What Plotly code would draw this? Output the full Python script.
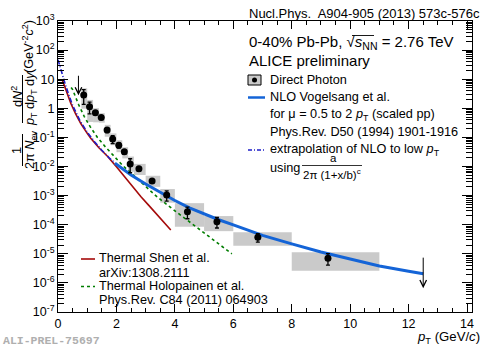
import numpy as np
import plotly.graph_objects as go

# ---------------- direct photon spectrum, 0-40% Pb-Pb ----------------
pt = [0.88, 1.08, 1.28, 1.48, 1.68, 1.87, 2.08, 2.27, 2.47, 2.77, 3.22, 3.72, 4.43, 5.44, 6.84, 9.24]
dn = [2.87, 1.14, 0.71, 0.48, 0.18, 0.088, 0.054, 0.032, 0.0123, 0.0083,
      0.0032, 0.00105, 2.8e-4, 1.27e-4, 3.7e-5, 7.1e-6]
stat_err = [1.5, 0.5, 0.12, 0.07, 0.035, 0.027, 0.011, 0.006, 0.0062, 0.0015,
            0.0005, 0.0004, 1.2e-4, 5e-5, 1.2e-5, 3e-6]
sys_up = [2.0, 0.8, 0.3, 0.2, 0.09, 0.049, 0.026, 0.014, 0.0097, 0.004,
          0.0016, 0.00063, 2.7e-4, 7.1e-5, 1.8e-5, 4.1e-6]
sys_dn = [1.9, 0.8, 0.38, 0.16, 0.075, 0.034, 0.023, 0.013, 0.0057, 0.0032,
          0.0012, 0.00048, 1.95e-4, 6.7e-5, 1.8e-5, 4.5e-6]
bin_lo = [0.8, 1.0, 1.2, 1.4, 1.6, 1.8, 2.0, 2.2, 2.4, 2.6, 3.0, 3.5, 4.0, 5.0, 6.0, 8.0]
bin_hi = [1.0, 1.2, 1.4, 1.6, 1.8, 2.0, 2.2, 2.4, 2.6, 3.0, 3.5, 4.0, 5.0, 6.0, 8.0, 11.0]

# upper limits
ul_pt = [0.7, 12.5]
ul_val = [14.8, 8.3e-6]

# ---------------- theory curves ----------------
nlo_pt = [1.95, 2.5, 3.0, 3.5, 4.0, 4.5, 5.0, 5.5, 6.0, 7.0, 8.0, 9.0, 10.0, 11.0, 12.0, 12.5]
nlo_y = [1.29e-2, 5.1e-3, 2.5e-3, 1.26e-3, 6.8e-4, 3.8e-4, 2.35e-4, 1.48e-4, 9.8e-5,
         4.3e-5, 2.2e-5, 1.15e-5, 6.6e-6, 3.8e-6, 2.5e-6, 2.05e-6]

extra_pt = [0.0, 0.05, 0.1, 0.15, 0.25, 0.35, 0.5, 0.75, 1.0, 1.25, 1.5, 1.75, 1.95]
extra_y = [47, 31, 20.4, 13.8, 6.6, 3.3, 1.26, 0.38, 0.15, 0.071, 0.036, 0.020, 0.0132]

shen_pt = [0.15, 0.3, 0.44, 0.6, 0.78, 1.0, 1.12, 1.4, 1.7, 2.0, 2.27, 2.55, 2.84,
           3.1, 3.41, 3.65, 3.86]
shen_y = [9.3, 3.4, 1.48, 0.65, 0.30, 0.138, 0.093, 0.044, 0.022, 0.0098, 0.0045,
          0.0020, 9.1e-4, 4.7e-4, 2.14e-4, 1.2e-4, 6.6e-5]

holo_pt = [0.45, 0.5, 0.7, 0.9, 1.1, 1.35, 1.6, 1.9, 2.2, 2.5, 2.8, 3.1, 3.4,
           4.0, 4.5, 5.0, 5.5, 5.95]
holo_y = [5.2, 4.4, 1.38, 0.52, 0.234, 0.100, 0.050, 0.0229, 0.0112, 0.0059,
          0.00316, 0.00166, 8.9e-4, 3.0e-4, 1.26e-4, 5.4e-5, 2.3e-5, 1.0e-5]

# axis ticks
x_ticks = [0, 2, 4, 6, 8, 10, 12, 14]
y_exps = list(range(-7, 4))
y_ticktext = ["1" if e == 0 else "10" if e == 1 else "10<sup>%d</sup>" % e for e in y_exps]

# ---------------- styling ----------------
FONT = "Liberation Sans, Arial, sans-serif"
W, H = 485, 346
ML, MR, MT, MB = 58, 13, 21, 34
PW, PH = W - ML - MR, H - MT - MB

BLUE = "rgb(20,100,215)"
DBLUE = "rgb(30,30,200)"
RED = "rgb(165,10,10)"
GREEN = "rgb(0,125,0)"
GRAY = "rgb(202,202,202)"


def px(x):
    return (x - ML) / PW


def py(y):
    return (H - MB - y) / PH


fig = go.Figure()

# systematic boxes
for lo, hi, v, su, sd in zip(bin_lo, bin_hi, dn, sys_up, sys_dn):
    fig.add_trace(go.Scatter(
        x=[lo, hi, hi, lo, lo], y=[v - sd, v - sd, v + su, v + su, v - sd],
        mode="lines", fill="toself", fillcolor=GRAY, line=dict(width=0, color=GRAY),
        hoverinfo="skip", showlegend=False))

# theory curves
fig.add_trace(go.Scatter(x=shen_pt, y=shen_y, mode="lines", line=dict(color=RED, width=1.6),
                         showlegend=False))
fig.add_trace(go.Scatter(x=holo_pt, y=holo_y, mode="lines",
                         line=dict(color=GREEN, width=1.6, dash="3px,3px"), showlegend=False))
fig.add_trace(go.Scatter(x=extra_pt, y=extra_y, mode="lines",
                         line=dict(color=DBLUE, width=1.6, dash="5px,2px,1px,2px"), showlegend=False))
fig.add_trace(go.Scatter(x=nlo_pt, y=nlo_y, mode="lines", line=dict(color=BLUE, width=3),
                         showlegend=False))

# data points with statistical errors
fig.add_trace(go.Scatter(
    x=pt, y=dn, mode="markers",
    marker=dict(color="black", size=7, symbol="circle"),
    error_y=dict(type="data", array=stat_err, color="black", thickness=1.3, width=2),
    showlegend=False))

annotations = []
shapes = []

# upper-limit arrows (tail at the limit, pointing down)
for x, v, ln in zip(ul_pt, ul_val, [21, 32]):
    annotations.append(dict(
        x=x, y=np.log10(v), xref="x", yref="y", yshift=-ln, ax=0, ay=-ln,
        showarrow=True, arrowhead=5, arrowsize=1.3, arrowwidth=1, arrowcolor="black",
        text=""))


def label(x, y, text, size=12.7, anchor="left", color="black", angle=0, family=FONT):
    annotations.append(dict(
        x=px(x), y=py(y), xref="paper", yref="paper", text=text, showarrow=False,
        xanchor=anchor, yanchor="middle", textangle=angle,
        font=dict(family=family, size=size, color=color)))


def hline(x0, x1, y, color="black", width=1, dash="solid"):
    shapes.append(dict(type="line", xref="paper", yref="paper",
                       x0=px(x0), x1=px(x1), y0=py(y), y1=py(y),
                       line=dict(color=color, width=width, dash=dash)))


def vline(x, y0, y1, color="black", width=1):
    shapes.append(dict(type="line", xref="paper", yref="paper",
                       x0=px(x), x1=px(x), y0=py(y0), y1=py(y1),
                       line=dict(color=color, width=width)))


# reference line top right
label(482, 13, "Nucl.Phys.  A904-905 (2013) 573c-576c", size=13, anchor="right")

# header
label(247, 43, "0-40% Pb-Pb, √<i>s</i><sub>NN</sub> = 2.76 TeV", size=15)
hline(352, 374, 35.5, width=0.9)
label(247, 61, "ALICE preliminary", size=15)

# legend (top right)
shapes.append(dict(type="rect", xref="paper", yref="paper",
                   x0=px(248), x1=px(261), y0=py(85), y1=py(75),
                   fillcolor=GRAY, line=dict(color="black", width=1)))
shapes.append(dict(type="circle", xref="paper", yref="paper",
                   x0=px(252), x1=px(257), y0=py(82.5), y1=py(77.5),
                   fillcolor="black", line=dict(color="black", width=0)))
label(268, 80, "Direct Photon")
hline(248, 265, 97.5, color=BLUE, width=2.5)
label(268, 97, "NLO Vogelsang et al.")
label(268, 115, "for μ = 0.5 to 2 <i>p</i><sub>T</sub> (scaled pp)")
label(268, 132, "Phys.Rev. D50 (1994) 1901-1916")
hline(248, 265, 150, color=DBLUE, width=1.3, dash="4px,2px,1px,2px")
label(268, 150, "extrapolation of NLO to low <i>p</i><sub>T</sub>")
label(268, 168, "using", size=12.7)
label(333, 158, "a", size=11.5, anchor="center")
hline(302, 362, 165.5, width=0.8)
label(332, 174, "2π (1+x/b)<sup>c</sup>", size=11.5, anchor="center")

# legend (bottom left)
hline(81, 95, 259, color=RED, width=1.6)
label(97, 258, "Thermal Shen et al.")
label(97, 273, "arXiv:1308.2111")
hline(81, 95, 286.5, color=GREEN, width=1.6, dash="3px,3px")
label(97, 286, "Thermal Holopainen et al.")
label(97, 300, "Phys.Rev. C84 (2011) 064903")

# y-axis title, built from two stacked fractions
label(28, 47, "(GeV<sup>-2</sup><i>c</i><sup>2</sup>)", size=12.7, anchor="center", angle=-90)
label(17, 97, "d<i>N</i><sup>2</sup>", size=12.7, anchor="center", angle=-90)
vline(22.5, 75, 123)
label(31, 99, "<i>p</i><sub>T</sub> d<i>p</i><sub>T</sub> d<i>y</i>", size=12.7, anchor="center", angle=-90)
label(17, 151, "1", size=12.7, anchor="center", angle=-90)
vline(22.5, 134, 166)
label(31, 150, "2π <i>N</i><sub>ev</sub>", size=12.7, anchor="center", angle=-90)

# x-axis title
label(482, 337, "<i>p</i><sub>T</sub> (GeV/<i>c</i>)", size=13.2, anchor="right")

# preliminary figure id
label(1, 340, "<b>ALI-PREL-75697</b>", size=11.5, color="rgb(175,175,175)",
      family="Liberation Mono, Courier New, monospace")

axis_common = dict(showline=True, linecolor="black", linewidth=1, mirror="allticks",
                   ticks="inside", tickcolor="black", showgrid=False, zeroline=False,
                   tickfont=dict(family=FONT, size=12.5, color="black"))

fig.update_layout(
    width=W, height=H,
    margin=dict(l=ML, r=MR, t=MT, b=MB, pad=0),
    paper_bgcolor="white", plot_bgcolor="white",
    showlegend=False,
    xaxis=dict(range=[0, 14.17], tickmode="array", tickvals=x_ticks, ticklen=8,
               minor=dict(dtick=0.5, ticks="inside", ticklen=4, tickcolor="black"),
               **axis_common),
    yaxis=dict(type="log", range=[-7, 3], tickmode="array",
               tickvals=[10.0 ** e for e in y_exps], ticktext=y_ticktext, ticklen=10,
               minor=dict(tickvals=[k * 10.0 ** e for e in range(-7, 3) for k in range(2, 10)],
                          ticks="inside", ticklen=6, tickcolor="black"),
               **axis_common),
    annotations=annotations,
    shapes=shapes,
)

fig.write_html("out.html")
